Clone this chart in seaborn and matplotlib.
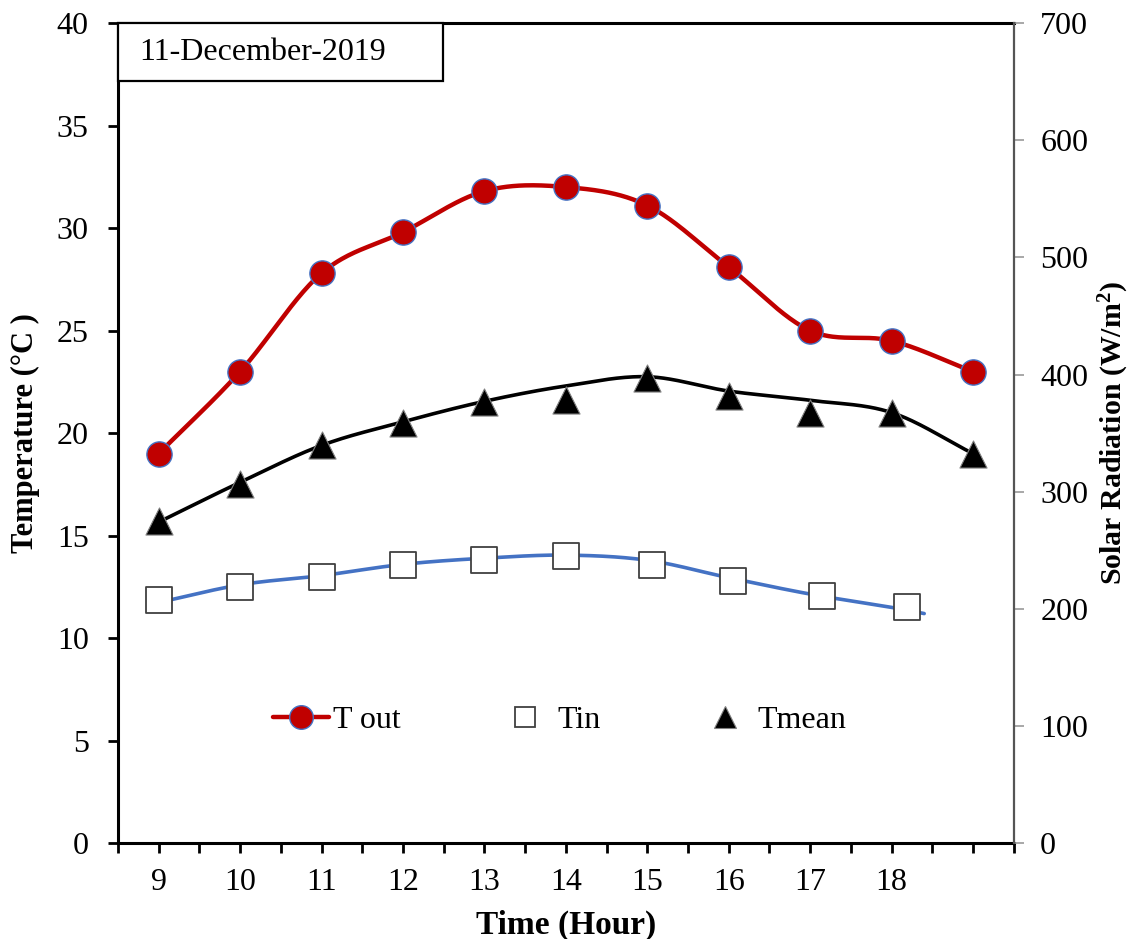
import numpy as np
import matplotlib
matplotlib.use("Agg")
import matplotlib.pyplot as plt
from matplotlib.lines import Line2D
from matplotlib.patches import Rectangle
import seaborn as sns

# ---- data -------------------------------------------------------------
hours = [9, 10, 11, 12, 13, 14, 15, 16, 17, 18, 19]
t_out = [19.0, 23.0, 27.8, 29.8, 31.8, 32.0, 31.1, 28.1, 25.0, 24.5, 23.0]
t_mean = [15.7, 17.5, 19.4, 20.5, 21.5, 21.6, 22.7, 21.8, 21.0, 21.0, 19.0]

tin_hours = [9, 10, 11, 12, 13, 14, 15.06, 16.05, 17.15, 18.19]
t_in = [11.85, 12.5, 13.0, 13.55, 13.8, 14.0, 13.55, 12.8, 12.05, 11.5]

# fitted curves drawn as plain lines
mean_fit_hours = [9, 10, 11, 12, 13, 14, 15, 16, 17, 18, 19]
mean_fit = [15.66, 17.6, 19.4, 20.55, 21.55, 22.3, 22.75, 22.05, 21.6, 21.0, 19.0]

tin_fit_hours = [8.9, 10, 11, 12, 13, 14, 15, 16, 17, 18, 18.4]
tin_fit = [11.65, 12.6, 13.05, 13.6, 13.9, 14.05, 13.8, 12.95, 12.15, 11.5, 11.2]

x_labels = ["9", "10", "11", "12", "13", "14", "15", "16", "17", "18"]
temp_ticks = [0, 5, 10, 15, 20, 25, 30, 35, 40]
rad_ticks = [0, 100, 200, 300, 400, 500, 600, 700]
date_text = "11-December-2019"


def smooth(xs, ys, n=40):
    """Catmull-Rom smoothed path through the given points."""
    pts = np.column_stack([xs, ys]).astype(float)
    p = np.vstack([2 * pts[0] - pts[1], pts, 2 * pts[-1] - pts[-2]])
    segs = []
    t = np.linspace(0, 1, n, endpoint=False)[:, None]
    for i in range(1, len(p) - 2):
        p0, p1, p2, p3 = p[i - 1], p[i], p[i + 1], p[i + 2]
        seg = 0.5 * (2 * p1 + (-p0 + p2) * t
                     + (2 * p0 - 5 * p1 + 4 * p2 - p3) * t ** 2
                     + (-p0 + 3 * p1 - 3 * p2 + p3) * t ** 3)
        segs.append(seg)
    segs.append(pts[-1][None, :])
    s = np.vstack(segs)
    return s[:, 0], s[:, 1]


sns.set_theme(style="white")
plt.rcParams["font.family"] = ["Liberation Serif", "DejaVu Serif"]
plt.rcParams["mathtext.fontset"] = "custom"
plt.rcParams["mathtext.rm"] = "Liberation Serif"
plt.rcParams["mathtext.bf"] = "Liberation Serif:bold"
for key in ["text.color", "axes.labelcolor", "xtick.color", "ytick.color"]:
    plt.rcParams[key] = "black"

fig = plt.figure(figsize=(11.34, 9.39), dpi=100)
ax = fig.add_axes([0.104, 0.102, 0.790, 0.8735])

RED = "#C00000"
BLUE = "#4472C4"
FS = 23

# smoothed lines
sx, sy = smooth(hours, t_out)
sns.lineplot(x=sx, y=sy, ax=ax, color=RED, linewidth=3.2, sort=False, zorder=3)
mx, my = smooth(mean_fit_hours, mean_fit)
sns.lineplot(x=mx, y=my, ax=ax, color="black", linewidth=2.6, sort=False, zorder=3)
bx, by = smooth(tin_fit_hours, tin_fit)
sns.lineplot(x=bx, y=by, ax=ax, color=BLUE, linewidth=2.6, sort=False, zorder=3)

# markers
sns.scatterplot(x=hours, y=t_out, ax=ax, marker="o", s=330, color=RED,
                edgecolor=BLUE, linewidth=1.0, zorder=5)
sns.scatterplot(x=tin_hours, y=t_in, ax=ax, marker="s", s=330, color="white",
                edgecolor="#404040", linewidth=1.3, zorder=4)
sns.scatterplot(x=hours, y=t_mean, ax=ax, marker="^", s=380, color="black",
                edgecolor="#808080", linewidth=0.8, zorder=4)

ax.set_xlim(8.5, 19.5)
ax.set_ylim(0, 40)
minor_pos = np.arange(8.5, 19.51, 0.5)
ax.set_xticks(minor_pos)
lab = []
for v in minor_pos:
    if float(v).is_integer() and 9 <= v <= 18:
        lab.append(x_labels[int(v) - 9])
    else:
        lab.append("")
ax.set_xticklabels(lab)
ax.set_yticks(temp_ticks)
ax.set_yticklabels([str(v) for v in temp_ticks])

for side in ["left", "bottom", "top"]:
    ax.spines[side].set_color("black")
    ax.spines[side].set_linewidth(2.2)
ax.spines["right"].set_visible(False)

ax.tick_params(axis="both", which="major", direction="out", length=7, width=2,
               color="black", labelsize=FS, labelcolor="black")
ax.tick_params(axis="x", pad=11, bottom=True)
ax.tick_params(axis="y", pad=14, left=True)

ax.set_xlabel("Time (Hour)", fontsize=24, fontweight="bold", labelpad=9)
ax.set_ylabel("Temperature (°C )", fontsize=22, fontweight="bold", labelpad=12)

# secondary axis
ax2 = ax.twinx()
ax2.set_ylim(0, 700)
ax2.set_yticks(rad_ticks)
ax2.set_yticklabels([str(v) for v in rad_ticks])
for side in ["left", "bottom", "top"]:
    ax2.spines[side].set_visible(False)
ax2.spines["right"].set_color("#555555")
ax2.spines["right"].set_linewidth(1.6)
ax2.tick_params(axis="y", direction="out", length=7, width=1.2, color="#999999",
                labelsize=FS, labelcolor="black", pad=12, right=True)
ax2.set_ylabel("Solar Radiation (W/m$\\mathbf{^2}$)", fontsize=21.5,
               fontweight="bold", labelpad=6)
ax2.grid(False)
ax.grid(False)

# date box
ax.add_patch(Rectangle((0, 1 - 0.0707), 0.363, 0.0707, transform=ax.transAxes,
                       facecolor="white", edgecolor="black", linewidth=1.6,
                       zorder=6, clip_on=False))
ax.text(0.0235, 1 - 0.0707 / 2, date_text, transform=ax.transAxes, fontsize=FS,
        va="center", ha="left", zorder=7)

# legend
handles = [
    Line2D([], [], color=RED, linewidth=3.2, marker="o", markersize=17,
           markerfacecolor=RED, markeredgecolor=BLUE, markeredgewidth=1.0),
    Line2D([], [], linestyle="none", marker="s", markersize=15,
           markerfacecolor="white", markeredgecolor="#404040", markeredgewidth=1.3),
    Line2D([], [], linestyle="none", marker="^", markersize=16,
           markerfacecolor="black", markeredgecolor="#808080", markeredgewidth=0.8),
]
ax.legend(handles, ["T out", "Tin", "Tmean"], ncol=3, frameon=False,
          loc="center", bbox_to_anchor=(0.493, 0.150), fontsize=FS,
          handlelength=1.75, handletextpad=0.15, columnspacing=3.0,
          borderpad=0, borderaxespad=0)

fig.savefig("out.png", dpi=100)
